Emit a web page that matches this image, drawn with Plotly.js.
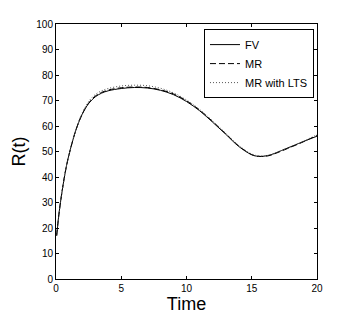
<!DOCTYPE html>
<html>
<head>
<meta charset="utf-8">
<script src="https://cdn.plot.ly/plotly-3.0.1.min.js"></script>
<style>html,body{margin:0;padding:0;background:#fff;}#chart{width:360px;height:315px;}</style>
</head>
<body>
<div id="chart"></div>
<script>
const time = [0.05, 0.25, 0.5, 0.75, 1, 1.5, 2, 2.5, 3, 3.5, 4, 5, 6, 7, 8, 9, 10, 11, 12, 13, 14, 15, 15.5, 16, 16.5, 17, 18, 19, 20];
const fv =    [17, 26.5, 35.5, 43, 48.8, 58, 64.5, 68.8, 71.4, 72.9, 73.8, 74.7, 75.1, 74.9, 74.0, 72.3, 69.6, 66.0, 61.5, 56.8, 52.0, 48.7, 48.1, 48.2, 48.8, 49.8, 51.9, 54.0, 56.0];
const mr =    [17, 26.5, 35.5, 43, 48.8, 58, 64.6, 69.0, 71.7, 73.2, 74.1, 75.0, 75.3, 75.1, 74.2, 72.6, 69.9, 66.3, 61.8, 57.0, 52.2, 48.8, 48.1, 48.1, 48.6, 49.6, 51.7, 53.9, 56.4];
const mrLts = [17, 26.5, 35.5, 43, 48.8, 58.3, 65.0, 69.6, 72.3, 73.8, 74.7, 75.7, 76.0, 75.8, 74.8, 73.0, 70.2, 66.5, 62.0, 57.2, 52.4, 49.0, 48.3, 48.3, 48.8, 49.8, 51.9, 54.1, 56.6];
const seriesNames = ['FV', 'MR', 'MR with LTS'];
const xTicks = [0, 5, 10, 15, 20];
const yTicks = [0, 10, 20, 30, 40, 50, 60, 70, 80, 90, 100];

const font = 'Liberation Sans, Arial, Helvetica, sans-serif';
const traces = [
  {x: time, y: fv, name: seriesNames[0], mode: 'lines', line: {color: '#000', width: 1, dash: 'solid', shape: 'spline'}},
  {x: time, y: mr, name: seriesNames[1], mode: 'lines', line: {color: '#000', width: 1, dash: '6px,3px', shape: 'spline'}},
  {x: time, y: mrLts, name: seriesNames[2], mode: 'lines', line: {color: '#555', width: 1, dash: '1px,2px', shape: 'spline'}}
];
const axisCommon = {
  showline: true, linecolor: '#000', linewidth: 1, mirror: 'ticks',
  ticks: 'inside', ticklen: 3, tickcolor: '#000', tickwidth: 1,
  showgrid: false, zeroline: false,
  tickfont: {family: font, size: 10, color: '#000'}
};
const layout = {
  width: 360, height: 315,
  margin: {l: 56, r: 43, t: 24, b: 36},
  paper_bgcolor: '#fff', plot_bgcolor: '#fff',
  font: {family: font, color: '#000'},
  xaxis: Object.assign({}, axisCommon, {
    range: [0, 20], tickvals: xTicks, ticktext: xTicks.map(String),
    title: {text: 'Time', font: {family: font, size: 18, color: '#000'}, standoff: 4}
  }),
  yaxis: Object.assign({}, axisCommon, {
    range: [0, 100], tickvals: yTicks, ticktext: yTicks.map(String),
    title: {text: 'R(t)', font: {family: font, size: 18, color: '#000'}, standoff: 6}
  }),
  legend: {
    x: 0.567, y: 0.98, xanchor: 'left', yanchor: 'top',
    bgcolor: '#fff', bordercolor: '#000', borderwidth: 1,
    font: {family: font, size: 11, color: '#000'}
  },
  showlegend: true
};
Plotly.newPlot('chart', traces, layout, {staticPlot: true, displayModeBar: false});
</script>
</body>
</html>
